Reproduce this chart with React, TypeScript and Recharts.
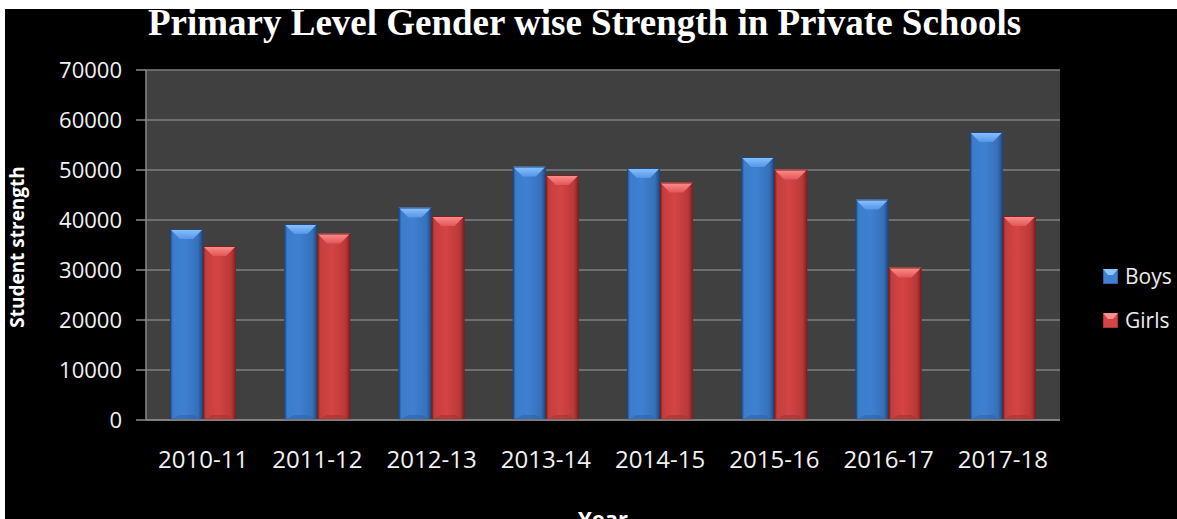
import React from "react";
import {
  BarChart,
  Bar,
  XAxis,
  YAxis,
  CartesianGrid,
  Legend,
} from "recharts";

const years = ["2010-11", "2011-12", "2012-13", "2013-14", "2014-15", "2015-16", "2016-17", "2017-18"];
const boys = [38200, 39200, 42500, 50700, 50400, 52600, 44100, 57600];
const girls = [34800, 37300, 40800, 49000, 47500, 50100, 30500, 40800];
const yTicks = [0, 10000, 20000, 30000, 40000, 50000, 60000, 70000];

const chartData = years.map((year, i) => ({ year, boys: boys[i], girls: girls[i] }));

const FONT = '"Open Sans", sans-serif';

// colours for the bevelled bars
const palette: Record<string, { edge: string; light: string; body: string; shade: string; top1: string; top2: string; bottom: string }> = {
  boys: {
    edge: "#21477a",
    light: "#3c7ccc",
    body: "#4080d2",
    shade: "#3570ba",
    top1: "#8cc4ff",
    top2: "#5596e6",
    bottom: "#2f64a8",
  },
  girls: {
    edge: "#7a2222",
    light: "#c63d3d",
    body: "#d44444",
    shade: "#bb3838",
    top1: "#ff8f8f",
    top2: "#e25656",
    bottom: "#a83030",
  },
};

const GradientDefs = () => (
  <defs>
    {Object.keys(palette).map((k) => {
      const c = palette[k];
      return (
        <React.Fragment key={k}>
          <linearGradient id={`side-${k}`} x1="0" y1="0" x2="1" y2="0">
            <stop offset="0%" stopColor={c.edge} />
            <stop offset="9%" stopColor={c.light} />
            <stop offset="45%" stopColor={c.body} />
            <stop offset="85%" stopColor={c.shade} />
            <stop offset="100%" stopColor={c.edge} />
          </linearGradient>
          <linearGradient id={`top-${k}`} x1="0" y1="0" x2="0" y2="1">
            <stop offset="0%" stopColor={c.top1} />
            <stop offset="100%" stopColor={c.top2} />
          </linearGradient>
        </React.Fragment>
      );
    })}
  </defs>
);

const makeBar = (key: string) => (props: any) => {
  const { x, y, width, height } = props;
  if (!height || height <= 0) return <g />;
  const c = palette[key];
  const bh = Math.min(10, height / 2);
  const bw = width * 0.3;
  const bb = Math.min(5, height / 4);
  return (
    <g>
      <rect x={x} y={y} width={width} height={height} fill={`url(#side-${key})`} />
      <polygon
        points={`${x},${y} ${x + width},${y} ${x + width - bw},${y + bh} ${x + bw},${y + bh}`}
        fill={`url(#top-${key})`}
      />
      <polygon
        points={`${x + bw},${y + height - bb} ${x + width - bw},${y + height - bb} ${x + width},${y + height} ${x},${y + height}`}
        fill={c.bottom}
        opacity={0.6}
      />
      <rect x={x + 0.5} y={y + 0.5} width={width - 1} height={height - 1} fill="none" stroke={c.edge} strokeWidth={1} />
    </g>
  );
};

const LegendIcon = ({ k }: { k: string }) => {
  const c = palette[k];
  return (
    <svg width={15} height={15} style={{ display: "block" }}>
      <rect x={0} y={0} width={15} height={15} fill={c.body} stroke={c.edge} />
      <polygon points="0,0 15,0 10,6 5,6" fill={c.top1} />
    </svg>
  );
};

const renderLegend = (props: any) => {
  const { payload } = props;
  return (
    <div>
      {(payload || []).map((entry: any) => (
        <div key={entry.dataKey} style={{ height: 44, display: "flex", alignItems: "center" }}>
          <LegendIcon k={entry.dataKey} />
          <span style={{ marginLeft: 7, color: "#ececec", fontFamily: FONT, fontSize: 21 }}>{entry.value}</span>
        </div>
      ))}
    </div>
  );
};

const YLabel = () => (
  <text
    x={12}
    y={238}
    transform="rotate(-90 12 238)"
    textAnchor="middle"
    dominantBaseline="central"
    fill="#fff"
    fontFamily={FONT}
    fontWeight={700}
    fontSize={19}
  >
    Student strength
  </text>
);

const XLabel = (props: any) => {
  const vb = props.viewBox || {};
  return (
    <text
      x={vb.x + vb.width / 2}
      y={518}
      textAnchor="middle"
      fill="#fff"
      fontFamily={FONT}
      fontWeight={700}
      fontSize={22}
    >
      Year
    </text>
  );
};

export default function App() {
  return (
    <div
      style={{
        position: "absolute",
        left: 5,
        top: 9,
        width: 1172,
        height: 510,
        background: "#000",
      }}
    >
      <BarChart
        width={1172}
        height={510}
        data={chartData}
        margin={{ top: 61, right: 117, left: 0, bottom: 0 }}
        barCategoryGap="21%"
        barGap={0}
      >
        <GradientDefs />
        <CartesianGrid vertical={false} stroke="#7f7f7f" strokeWidth={1.5} fill="#404040" />
        <XAxis
          dataKey="year"
          height={99}
          axisLine={{ stroke: "#8a8a8a", strokeWidth: 1.5 }}
          tickLine={false}
          tickSize={0}
          tickMargin={31}
          tick={{ fill: "#f2f2f2", fontSize: 24, fontFamily: FONT }}
          interval={0}
          label={{ content: <XLabel /> }}
        />
        <YAxis
          width={141}
          domain={[0, 70000]}
          ticks={yTicks}
          axisLine={{ stroke: "#8a8a8a", strokeWidth: 1.5 }}
          tickLine={{ stroke: "#8a8a8a", strokeWidth: 1.5 }}
          tickSize={10}
          tickMargin={14}
          tick={{ fill: "#f2f2f2", fontSize: 22, fontFamily: FONT }}
          label={{ content: <YLabel /> }}
        />
        <Legend
          layout="vertical"
          align="center"
          verticalAlign="middle"
          content={renderLegend}
          wrapperStyle={{ left: 1098, top: 245, width: 80 }}
        />
        <Bar dataKey="boys" name="Boys" fill="#4080d2" shape={makeBar("boys")} isAnimationActive={false} />
        <Bar dataKey="girls" name="Girls" fill="#d44444" shape={makeBar("girls")} isAnimationActive={false} />
      </BarChart>
      <div
        style={{
          position: "absolute",
          left: -20.5,
          width: 1200,
          top: -5,
          textAlign: "center",
          fontFamily: '"Liberation Serif", "Times New Roman", serif',
          fontWeight: 700,
          fontSize: 37,
          lineHeight: "37px",
          color: "#fff",
          whiteSpace: "nowrap",
        }}
      >
        Primary Level Gender wise Strength in Private Schools
      </div>
    </div>
  );
}
